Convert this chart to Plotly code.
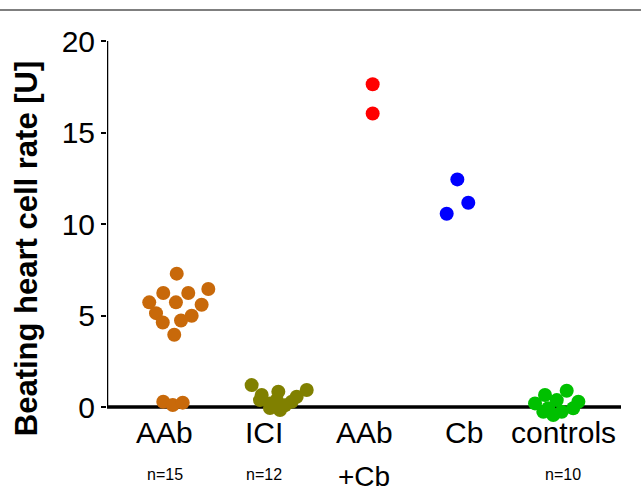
import plotly.graph_objects as go

categories = ["AAb", "ICI", "AAb<br>+Cb", "Cb", "controls"]
cat_main = ["AAb", "ICI", "AAb", "Cb", "controls"]
n_labels = ["n=15", "n=12", "", "", "n=10"]
colors = ["#C8690A", "#808000", "#FF0000", "#0000FF", "#00C000"]

aab_vals = [7.29, 6.23, 6.23, 6.45, 5.72, 5.72, 5.59, 5.13, 4.99, 4.62, 4.73, 3.95, 0.29, 0.11, 0.24]
aab_off = [0.12, -0.015, 0.236, 0.437, -0.156, 0.112, 0.37, -0.088, 0.27, -0.02, 0.163, 0.095, -0.015, 0.08, 0.18]

ici_vals = [1.2, 0.66, 0.84, 0.93, 0.56, 0.38, 0.2, 0.1, -0.16, -0.05, 0.29, 0.38]
ici_off = [-0.128, -0.027, 0.14, 0.425, 0.324, -0.044, 0.056, 0.207, 0.157, 0.056, 0.274, 0.123]

aabcb_vals = [17.64, 16.04]
aabcb_off = [0.087, 0.087]

cb_vals = [12.44, 11.16, 10.56]
cb_off = [-0.063, 0.047, -0.17]

ctrl_vals = [0.66, 0.89, 0.29, 0.2, 0.38, -0.07, -0.26, -0.07, -0.26, -0.44]
ctrl_off = [-0.183, 0.035, 0.152, -0.283, -0.065, -0.15, -0.015, 0.1, -0.2, -0.1]

y_ticks = [0, 5, 10, 15, 20]

groups = [(aab_vals, aab_off), (ici_vals, ici_off), (aabcb_vals, aabcb_off),
          (cb_vals, cb_off), (ctrl_vals, ctrl_off)]

FONT = "Arial, Liberation Sans, sans-serif"
fig = go.Figure()
for i, (vals, offs) in enumerate(groups):
    fig.add_trace(go.Scatter(
        x=[i + o for o in offs], y=vals, mode="markers",
        marker=dict(size=14, color=colors[i], line=dict(width=0)),
        showlegend=False, hoverinfo="skip"))

XMIN, XMAX = -0.58, 4.58
fig.update_layout(
    width=641, height=494,
    margin=dict(l=107, r=20, t=37, b=65),
    plot_bgcolor="white", paper_bgcolor="white",
    font=dict(family=FONT, color="black"),
    xaxis=dict(range=[XMIN, XMAX], showgrid=False, zeroline=False,
               showline=False, showticklabels=False, ticks=""),
    yaxis=dict(range=[-1.2, 20.22], showgrid=False, zeroline=False,
               showline=False, tickvals=y_ticks, ticks="outside",
               ticklen=5, tickwidth=2, tickcolor="black", automargin=False,
               tickfont=dict(size=30, family=FONT, color="black")),
)

# axis lines
fig.add_shape(type="line", xref="x", yref="y", x0=XMIN, x1=XMIN, y0=0, y1=20,
              line=dict(color="black", width=2.5), layer="below")
fig.add_shape(type="line", xref="x", yref="y", x0=XMIN, x1=XMAX, y0=0, y1=0,
              line=dict(color="black", width=3.5), layer="below")
# top rule
fig.add_shape(type="line", xref="paper", yref="paper", x0=-0.25, x1=1.1,
              y0=1.069, y1=1.069, line=dict(color="#555555", width=1.5))

for i, lab in enumerate(cat_main):
    fig.add_annotation(x=i, xref="x", y=-0.0102, yref="paper", text=lab,
                       showarrow=False, xanchor="center", yanchor="middle",
                       font=dict(size=30, family=FONT, color="black"))
    if n_labels[i]:
        fig.add_annotation(x=i, xref="x", y=-0.115, yref="paper", text=n_labels[i],
                           showarrow=False, xanchor="center", yanchor="middle",
                           font=dict(size=16, family=FONT, color="black"))
fig.add_annotation(x=2, xref="x", y=-0.12, yref="paper", text="+Cb",
                   showarrow=False, xanchor="center", yanchor="middle",
                   borderpad=0,
                   font=dict(size=28, family=FONT, color="black"))

fig.add_annotation(x=-0.155, xref="paper", y=0.462, yref="paper",
                   text="<b>Beating heart cell rate [U]</b>", textangle=-90,
                   showarrow=False, xanchor="center", yanchor="middle",
                   font=dict(size=31, family=FONT, color="black"))

fig.write_html("out.html", config={"displayModeBar": False},
               post_script="document.body.style.margin='0';document.body.style.overflow='hidden';")
